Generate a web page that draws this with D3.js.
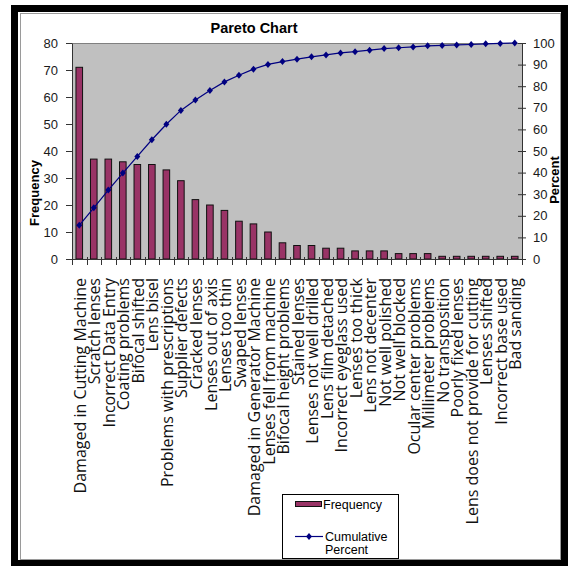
<!DOCTYPE html>
<html>
<head>
<meta charset="utf-8">
<script src="https://cdn.jsdelivr.net/npm/d3@7"></script>
<style>
  html, body { margin: 0; padding: 0; background: #ffffff; }
  svg { display: block; }
</style>
</head>
<body>
<svg id="chart" width="568" height="566"></svg>
<script>
const categories = [
  "Damaged in Cutting Machine", "Scratch lenses", "Incorrect Data Entry", "Coating problems",
  "Bifocal shifted", "Lens bisel", "Problems with prescriptions", "Supplier defects",
  "Cracked lenses", "Lenses out of axis", "Lenses too thin", "Swaped lenses",
  "Damaged in Generator Machine", "Lenses fell from machine", "Bifocal height problems",
  "Stained lenses", "Lenses not well drilled", "Lens film detached", "Incorrect eyeglass used",
  "Lenses too thick", "Lens not decenter", "Not well polished", "Not well blocked",
  "Ocular center problems", "Millimeter problems", "No transposition", "Poorly fixed lenses",
  "Lens does not provide for cutting", "Lenses shifted", "Incorrect base used", "Bad sanding"
];
const frequency = [71, 37, 37, 36, 35, 35, 33, 29, 22, 20, 18, 14, 13, 10, 6,
                   5, 5, 4, 4, 3, 3, 3, 2, 2, 2, 1, 1, 1, 1, 1, 1];
const cumulativePercent = [15.6, 23.7, 31.9, 39.8, 47.5, 55.2, 62.4, 68.8, 73.6, 78.0, 82.0, 85.1,
                   87.9, 90.1, 91.4, 92.5, 93.6, 94.5, 95.4, 96.0, 96.7, 97.4, 97.8, 98.2,
                   98.7, 98.9, 99.1, 99.3, 99.6, 99.8, 100];
const leftTicks = [0, 10, 20, 30, 40, 50, 60, 70, 80];
const rightTicks = [0, 10, 20, 30, 40, 50, 60, 70, 80, 90, 100];
const titleText = "Pareto Chart";
const leftTitle = "Frequency";
const rightTitle = "Percent";
const legendLabels = ["Frequency", "Cumulative", "Percent"];

const svg = d3.select("#chart");
const FONT = "'Liberation Sans', Arial, sans-serif";
const LABEL_FONT = "'Open Sans', 'Noto Sans', sans-serif";
const BAR_COLOR = "#993366";
const LINE_COLOR = "#000080";

// frame
svg.append("rect").attr("x", 11).attr("y", 5).attr("width", 557).attr("height", 561).attr("fill", "#000");
svg.append("rect").attr("x", 18).attr("y", 12).attr("width", 543).attr("height", 548).attr("fill", "#fff");
svg.append("rect").attr("x", 20.5).attr("y", 13.5).attr("width", 540).attr("height", 546)
  .attr("fill", "none").attr("stroke", "#9a9a9a").attr("stroke-width", 1);

const plot = { left: 72, right: 522, top: 43, bottom: 259 };

const x = d3.scaleBand().domain(categories).range([plot.left, plot.right]).padding(0);
const y = d3.scaleLinear().domain([0, 80]).range([plot.bottom, plot.top]);
const y2 = d3.scaleLinear().domain([0, 100]).range([plot.bottom, plot.top]);

// plot background
svg.append("rect")
  .attr("x", plot.left).attr("y", plot.top)
  .attr("width", plot.right - plot.left).attr("height", plot.bottom - plot.top)
  .attr("fill", "#c0c0c0");
svg.append("line").attr("x1", plot.left).attr("x2", plot.right)
  .attr("y1", plot.top + 0.5).attr("y2", plot.top + 0.5)
  .attr("stroke", "#808080").attr("stroke-width", 1);

// title
svg.append("text").attr("x", 254).attr("y", 33).attr("text-anchor", "middle")
  .attr("font-family", FONT).attr("font-weight", "bold").attr("font-size", 14.5)
  .attr("fill", "#000").text(titleText);

// bars
const bw = x.bandwidth() / 2.2;
svg.append("g").selectAll("rect").data(frequency).join("rect")
  .attr("x", (d, i) => x(categories[i]) + (x.bandwidth() - bw) / 2)
  .attr("y", d => y(d))
  .attr("width", bw)
  .attr("height", d => y(0) - y(d))
  .attr("fill", BAR_COLOR)
  .attr("stroke", "#111").attr("stroke-width", 1);

// left axis
const gl = svg.append("g").attr("transform", `translate(${plot.left},0)`)
  .call(d3.axisLeft(y).tickValues(leftTicks).tickSizeInner(6).tickSizeOuter(0).tickPadding(8));
gl.select(".domain").attr("stroke", "#333");
gl.selectAll(".tick line").attr("stroke", "#333");
gl.selectAll(".tick text").attr("font-family", FONT).attr("font-size", 13).attr("fill", "#1a1a1a");

// right axis
const gr = svg.append("g").attr("transform", `translate(${plot.right},0)`)
  .call(d3.axisRight(y2).tickValues(rightTicks).tickSizeInner(4).tickSizeOuter(0).tickPadding(7));
gr.select(".domain").attr("stroke", "#333");
gr.selectAll(".tick line").attr("x1", -4).attr("stroke", "#333");
gr.selectAll(".tick text").attr("font-family", FONT).attr("font-size", 13).attr("fill", "#1a1a1a");

// bottom axis line and category boundary ticks
svg.append("line").attr("x1", plot.left).attr("x2", plot.right)
  .attr("y1", plot.bottom + 0.5).attr("y2", plot.bottom + 0.5).attr("stroke", "#333");
const boundaries = categories.map(c => x(c)).concat([x.range()[1]]);
svg.append("g").selectAll("line").data(boundaries).join("line")
  .attr("x1", d => Math.round(d) + 0.5).attr("x2", d => Math.round(d) + 0.5)
  .attr("y1", plot.bottom - 2).attr("y2", plot.bottom + 6)
  .attr("stroke", "#333");

// category labels
svg.append("g").selectAll("text").data(categories).join("text")
  .attr("transform", d => `translate(${x(d) + x.bandwidth() / 2 + 1},278) rotate(-90)`)
  .attr("text-anchor", "end")
  .attr("dy", "0.35em")
  .attr("font-family", LABEL_FONT).attr("font-size", 16)
  .attr("fill", "#111")
  .text(d => d);

// cumulative line
const line = d3.line()
  .x((d, i) => x(categories[i]) + x.bandwidth() / 2)
  .y(d => y2(d));
svg.append("path").datum(cumulativePercent)
  .attr("d", line).attr("fill", "none")
  .attr("stroke", LINE_COLOR).attr("stroke-width", 1.2);
const diamond = "M0,-3.5L3,0L0,3.5L-3,0Z";
svg.append("g").selectAll("path").data(cumulativePercent).join("path")
  .attr("transform", (d, i) => `translate(${x(categories[i]) + x.bandwidth() / 2},${y2(d)})`)
  .attr("d", diamond).attr("fill", LINE_COLOR);

// axis titles
svg.append("text").attr("transform", "translate(34,193) rotate(-90)")
  .attr("text-anchor", "middle").attr("dy", "0.35em")
  .attr("font-family", FONT).attr("font-weight", "bold").attr("font-size", 13)
  .attr("fill", "#000").text(leftTitle);
svg.append("text").attr("transform", "translate(554,180) rotate(-90)")
  .attr("text-anchor", "middle").attr("dy", "0.35em")
  .attr("font-family", FONT).attr("font-weight", "bold").attr("font-size", 13)
  .attr("fill", "#000").text(rightTitle);

// legend
const lg = svg.append("g");
lg.append("rect").attr("x", 282.5).attr("y", 494.5).attr("width", 116).attr("height", 64)
  .attr("fill", "#fff").attr("stroke", "#000").attr("stroke-width", 1);
lg.append("rect").attr("x", 295.5).attr("y", 501.5).attr("width", 26).attr("height", 5)
  .attr("fill", BAR_COLOR).attr("stroke", "#111");
lg.append("text").attr("x", 323).attr("y", 508.5)
  .attr("font-family", FONT).attr("font-size", 12.5).attr("fill", "#000").text(legendLabels[0]);
lg.append("line").attr("x1", 295).attr("x2", 323).attr("y1", 536.5).attr("y2", 536.5)
  .attr("stroke", LINE_COLOR).attr("stroke-width", 1.2);
lg.append("path").attr("transform", "translate(309,536.5)").attr("d", diamond).attr("fill", LINE_COLOR);
lg.append("text").attr("x", 325).attr("y", 541)
  .attr("font-family", FONT).attr("font-size", 12.5).attr("fill", "#000").text(legendLabels[1]);
lg.append("text").attr("x", 325).attr("y", 554)
  .attr("font-family", FONT).attr("font-size", 12.5).attr("fill", "#000").text(legendLabels[2]);
</script>
</body>
</html>
